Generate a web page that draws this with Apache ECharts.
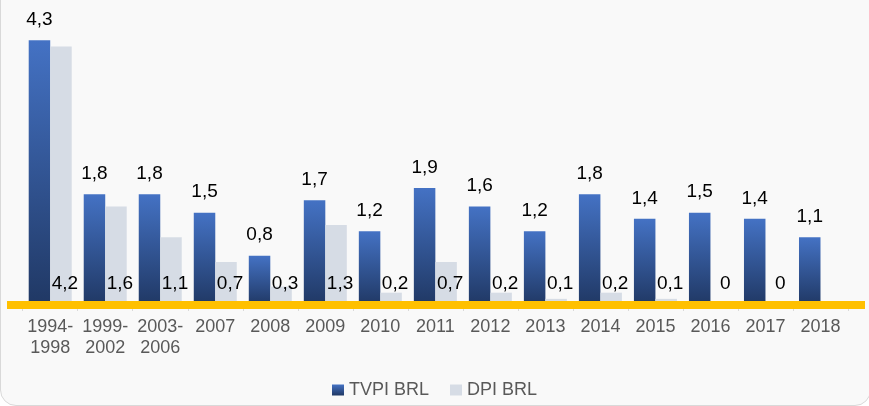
<!DOCTYPE html>
<html>
	<head>
		<meta charset="UTF-8">
		<title></title>
		<script type="text/javascript" src="https://cdn.jsdelivr.net/npm/echarts@6/dist/echarts.min.js"></script>
		<style>
			html, body {
				margin: 0;
				padding: 0;
				background: #ffffff;
				overflow: hidden;
			}
			#frame {
				position: absolute;
				left: 0px;
				top: -30px;
				width: 869px;
				height: 434px;
				border: 1px solid #d9d9d9;
				border-radius: 16px;
				background: #f9f9f9;
			}
			#main {
				position: absolute;
				left: 0;
				top: 0;
				width: 869px;
				height: 406px;
			}
		</style>
	</head>
	<body>
		<div id="frame"></div>
		<div id="main"></div>
		<script>
			// categorias (safras) e valores
			var categorias = ['1994-\n1998', '1999-\n2002', '2003-\n2006', '2007', '2008', '2009', '2010', '2011', '2012', '2013', '2014', '2015', '2016', '2017', '2018'];
			var tvpi = [4.3, 1.8, 1.8, 1.5, 0.8, 1.7, 1.2, 1.9, 1.6, 1.2, 1.8, 1.4, 1.5, 1.4, 1.1];
			var dpi = [4.2, 1.6, 1.1, 0.7, 0.3, 1.3, 0.2, 0.7, 0.2, 0.1, 0.2, 0.1, 0, 0, null];
			var nomes = ['TVPI BRL', 'DPI BRL'];

			var fonte = '"Liberation Sans", Arial, sans-serif';

			function virgula(p) {
				if (p.value === null || p.value === undefined) return '';
				return String(p.value).replace('.', ',');
			}

			var chart = echarts.init(document.getElementById('main'));
			chart.setOption({
				backgroundColor: 'transparent',
				textStyle: { fontFamily: fonte },
				animation: false,
				grid: {
					left: 22.7,
					right: 21,
					top: 28,
					bottom: 101
				},
				legend: {
					bottom: 2,
					left: 'center',
					itemWidth: 12,
					itemHeight: 11,
					itemGap: 21,
					icon: 'rect',
					textStyle: { color: '#595959', fontSize: 18, fontFamily: fonte },
					data: nomes
				},
				xAxis: {
					type: 'category',
					data: categorias,
					axisLine: { show: false },
					axisTick: { show: true, length: 6, lineStyle: { color: '#d9d9d9' } },
					axisLabel: {
						color: '#595959',
						fontSize: 18,
						lineHeight: 21,
						margin: 12,
						interval: 0,
						fontFamily: fonte
					}
				},
				yAxis: {
					type: 'value',
					min: 0,
					max: 4.5,
					show: false,
					splitLine: { show: false }
				},
				series: [{
					name: nomes[0],
					type: 'bar',
					barWidth: 21.5,
					barGap: '0%',
					data: tvpi,
					itemStyle: {
						color: new echarts.graphic.LinearGradient(0, 0, 0, 1, [
							{ offset: 0, color: '#4472c4' },
							{ offset: 1, color: '#203864' }
						])
					},
					label: {
						show: true,
						position: 'top',
						distance: 11,
						color: '#000000',
						fontSize: 19,
						fontFamily: fonte,
						formatter: virgula
					}
				}, {
					name: nomes[1],
					type: 'bar',
					barWidth: 21.5,
					data: dpi,
					itemStyle: { color: '#d6dce5' },
					label: {
						show: true,
						position: 'insideBottom',
						distance: 12,
						offset: [4, 0],
						color: '#000000',
						fontSize: 19,
						fontFamily: fonte,
						formatter: virgula
					}
				}]
			});

			// linha amarela do eixo, um pouco mais larga que a area do grafico
			var y0 = chart.convertToPixel({ yAxisIndex: 0 }, 0);
			chart.setOption({
				graphic: [{
					type: 'line',
					z: 100,
					shape: { x1: 7, y1: y0, x2: 865, y2: y0 },
					style: { stroke: '#ffc000', lineWidth: 8 }
				}]
			});
		</script>
	</body>
</html>
